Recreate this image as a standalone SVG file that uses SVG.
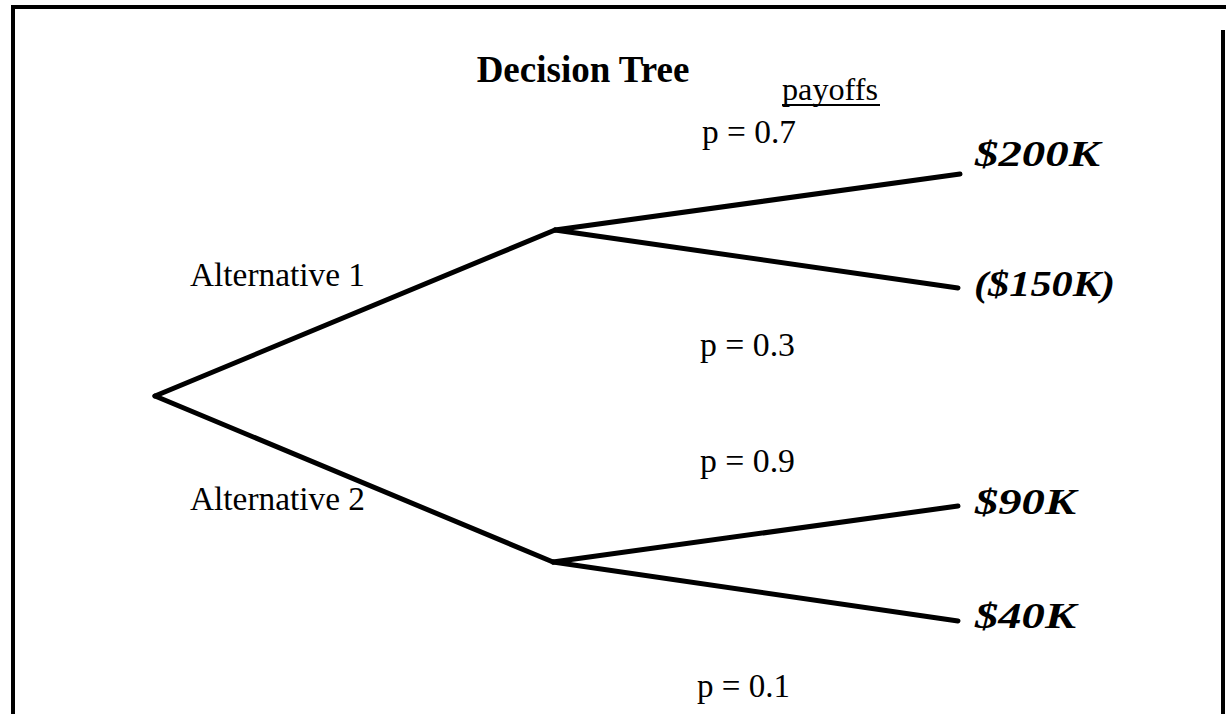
<svg xmlns="http://www.w3.org/2000/svg" width="1226" height="714" viewBox="0 0 1226 714">
<style>
.edge{stroke:#000;stroke-width:5;fill:none;stroke-linecap:round}
.frame{stroke:#000;stroke-width:4;fill:none}
.t{font-family:"Liberation Serif",serif;fill:#000}
.lbl{font-size:33px}
.pay{font-size:35px;font-weight:bold;font-style:italic}
</style>
<rect width="1226" height="714" fill="#fff"/>
<path class="frame" d="M13,714 V7 H1226 M1223,30 V714"/>
<g id="title"><text class="t" x="583" y="82" font-size="37" font-weight="bold" text-anchor="middle">Decision Tree</text></g>
<g id="payoffs-header"><text class="t" x="782" y="100" font-size="31" textLength="96" lengthAdjust="spacingAndGlyphs">payoffs</text><line x1="782" y1="105" x2="880" y2="105" stroke="#000" stroke-width="2"/></g>
<g id="connectors">
<line class="edge" x1="155" y1="396" x2="555" y2="230"/>
<line class="edge" x1="155" y1="396" x2="553" y2="562"/>
<line class="edge" x1="555" y1="230" x2="960" y2="174"/>
<line class="edge" x1="555" y1="230" x2="958" y2="288"/>
<line class="edge" x1="553" y1="562" x2="958" y2="506"/>
<line class="edge" x1="553" y1="562" x2="958" y2="621"/>
</g>
<g id="alt1"><text class="t lbl" x="190" y="286" textLength="175" lengthAdjust="spacingAndGlyphs">Alternative 1</text></g>
<g id="alt2"><text class="t lbl" x="190" y="510" textLength="175" lengthAdjust="spacingAndGlyphs">Alternative 2</text></g>
<g id="p07"><text class="t lbl" x="702" y="143" textLength="94" lengthAdjust="spacingAndGlyphs">p = 0.7</text></g>
<g id="p03"><text class="t lbl" x="700" y="356" textLength="95" lengthAdjust="spacingAndGlyphs">p = 0.3</text></g>
<g id="p09"><text class="t lbl" x="700" y="472" textLength="95" lengthAdjust="spacingAndGlyphs">p = 0.9</text></g>
<g id="p01"><text class="t lbl" x="697" y="697" textLength="93" lengthAdjust="spacingAndGlyphs">p = 0.1</text></g>
<g id="pay200"><text class="t pay" x="975" y="166" textLength="125" lengthAdjust="spacingAndGlyphs">$200K</text></g>
<g id="pay150"><text class="t pay" x="974" y="296" textLength="141" lengthAdjust="spacingAndGlyphs">($150K)</text></g>
<g id="pay90"><text class="t pay" x="975" y="514" textLength="101" lengthAdjust="spacingAndGlyphs">$90K</text></g>
<g id="pay40"><text class="t pay" x="975" y="628" textLength="101" lengthAdjust="spacingAndGlyphs">$40K</text></g>
</svg>
